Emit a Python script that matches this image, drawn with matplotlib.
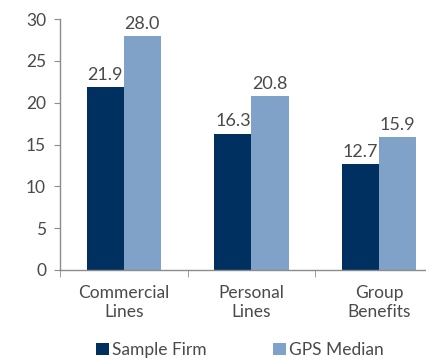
import matplotlib
matplotlib.use("Agg")
import matplotlib.pyplot as plt
import numpy as np

categories = ["Commercial\nLines", "Personal\nLines", "Group\nBenefits"]
sample_firm = [21.9, 16.3, 12.7]
gps_median = [28.0, 20.8, 15.9]
series_names = ["Sample Firm", "GPS Median"]
y_ticks = [0, 5, 10, 15, 20, 25, 30]

dark = "#00305F"
light = "#80A2C8"
text_col = "#4A4A4A"
axis_col = "#8C8C8C"
fs = 12.5

plt.rcParams['font.family'] = ['Lato', 'DejaVu Sans']

W, H = 427, 358
fig = plt.figure(figsize=(W / 100, H / 100), dpi=100)
# axes extends slightly past the right edge of the canvas
left, right, top, bottom = 60, 443, 19, 270
ax = fig.add_axes([left / W, 1 - bottom / H, (right - left) / W, (bottom - top) / H])

x = np.arange(len(categories))
bw = 0.29
b1 = ax.bar(x - bw / 2, sample_firm, bw, color=dark, label=series_names[0])
b2 = ax.bar(x + bw / 2, gps_median, bw, color=light, label=series_names[1])

for bars, vals in ((b1, sample_firm), (b2, gps_median)):
    for rect, v in zip(bars, vals):
        ax.annotate(f"{v:.1f}", (rect.get_x() + rect.get_width() / 2, v),
                    xytext=(0, 3), textcoords="offset points",
                    ha="center", va="bottom", fontsize=fs + 0.5, color=text_col)

ax.set_xlim(-0.5, len(categories) - 0.5)
ax.set_ylim(0, 30)
ax.set_yticks(y_ticks)
ax.tick_params(axis="y", labelsize=fs, colors=text_col, length=4, color=axis_col, pad=6)

ax.set_xticks(x)
ax.set_xticklabels(categories, fontsize=fs, color=text_col, linespacing=1.2)
ax.tick_params(axis="x", length=0, pad=11)
ax.set_xticks(np.arange(len(categories) + 1) - 0.5, minor=True)
ax.tick_params(axis="x", which="minor", length=5, color=axis_col)

for s in ("top", "right"):
    ax.spines[s].set_visible(False)
for s in ("left", "bottom"):
    ax.spines[s].set_color(axis_col)
    ax.spines[s].set_linewidth(1.0)

leg = fig.legend(handles=[b1, b2], labels=series_names, loc="center",
                 bbox_to_anchor=(240 / W, 1 - 350 / H), ncol=2, frameon=False,
                 fontsize=fs, handlelength=0.75, handleheight=0.75,
                 handletextpad=0.2, columnspacing=3.8, labelcolor=text_col)

fig.savefig("out.png", dpi=100)
